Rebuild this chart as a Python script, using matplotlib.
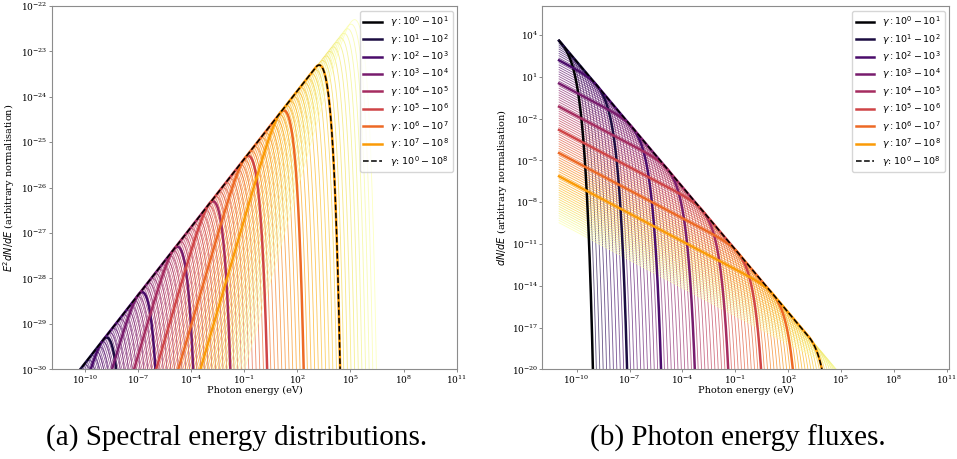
import numpy as np
import matplotlib.pyplot as plt

plt.rcParams['font.family'] = 'DejaVu Serif'
plt.rcParams['mathtext.fontset'] = 'dejavusans'

# photon energy grid (eV)
energy = np.logspace(-11, 11, 4000)

# log10 of the electron Lorentz factor
thin_log_gamma = np.linspace(1, 9, 81)      # single-electron curves
decades = [0, 1, 2, 3, 4, 5, 6, 7]          # grouped curves, one per decade
total_range = (0, 8)                        # dashed total

# gamma = 1 electron: log10 of the E^2 dN/dE peak energy (eV) and height;
# the peak moves 2 decades in energy and 1 in height per decade in gamma
sed_peak_energy = -12.77
sed_peak_height = -31.30
flux_peak_energy = -12.67
flux_peak_height = -19.28     # dN/dE panel: same spectrum divided by E^2

xticks = [1e-10, 1e-7, 1e-4, 1e-1, 1e2, 1e5, 1e8, 1e11]


def spectrum(lg, e_pk, h_pk):
    ec = 0.75 * 10 ** (e_pk + 2 * lg)
    x = energy / ec
    return 10 ** (h_pk + lg) * (0.75 * x) ** (4 / 3) * np.exp(4 / 3 - x)


def band(lo, hi, e_pk, h_pk, n=200):
    return np.max([spectrum(g, e_pk, h_pk) for g in np.linspace(lo, hi, n)],
                  axis=0)


def curves(e_pk, h_pk, weight):
    thin = [spectrum(g, e_pk, h_pk) * weight for g in thin_log_gamma]
    groups = [band(k, k + 1, e_pk, h_pk) * weight for k in decades]
    total = band(*total_range, e_pk, h_pk, n=801) * weight
    return thin, groups, total


cmap = plt.get_cmap('inferno')

fig = plt.figure(figsize=(9.57, 4.59), dpi=100)
ax1 = fig.add_axes([0.0543, 0.1954, 0.4235, 0.7915])
ax2 = fig.add_axes([0.5667, 0.1954, 0.4253, 0.7915])

panels = [
    (ax1, curves(sed_peak_energy, sed_peak_height, 1.0)),
    (ax2, curves(flux_peak_energy, flux_peak_height, energy ** -2.0)),
]

for ax, (thin, groups, total) in panels:
    for g, s in zip(thin_log_gamma, thin):
        ax.plot(energy, s, color=cmap(g / 9), lw=0.6, alpha=0.7)
    for k, s in zip(decades, groups):
        ax.plot(energy, s, color=cmap(k / 9), lw=1.8,
                label=r'$\gamma:10^{%d}-10^{%d}$' % (k, k + 1))
    ax.plot(energy, total, 'k--', lw=1.1, label=r'$\gamma$: $10^{0}-10^{8}$')
    ax.set_xscale('log')
    ax.set_yscale('log', nonpositive='clip')
    ax.set_xticks(xticks)
    ax.minorticks_off()
    ax.set_xlabel('Photon energy (eV)', fontsize=7, labelpad=0)
    ax.tick_params(labelsize=6.5, length=2, width=0.6, pad=1, color='#777777')
    for sp in ax.spines.values():
        sp.set_color('#8c8c8c')
        sp.set_linewidth(0.8)
    ax.legend(loc='upper right', fontsize=6.8, labelspacing=0.3)

ax1.set_xlim(10 ** -11.86, 10 ** 11.03)
ax1.set_ylim(1e-30, 1e-22)
ax1.set_ylabel(r'$E^2dN/dE$ (arbitrary normalisation)', fontsize=7, labelpad=3)

ax2.set_xlim(10 ** -11.95, 10 ** 11.15)
ax2.set_ylim(1e-20, 10 ** 6.09)
ax2.set_yticks([10.0 ** p for p in range(-20, 5, 3)])
ax2.minorticks_off()
ax2.set_ylabel(r'$dN/dE$ (arbitrary normalisation)', fontsize=7, labelpad=1.5)

fig.text(237 / 957, 1 - 438 / 459, '(a) Spectral energy distributions.',
         ha='center', va='center', fontsize=21, family='Liberation Serif')
fig.text(738 / 957, 1 - 438 / 459, '(b) Photon energy fluxes.',
         ha='center', va='center', fontsize=21, family='Liberation Serif')

fig.savefig('out.png', dpi=100)
